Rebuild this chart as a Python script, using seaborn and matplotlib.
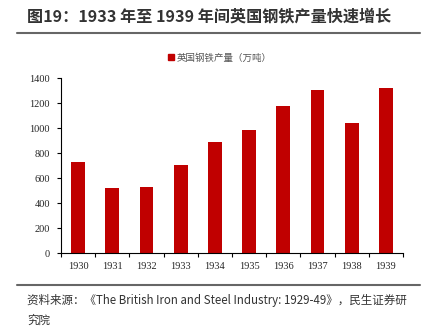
import matplotlib
matplotlib.use("Agg")
import matplotlib.pyplot as plt
import matplotlib.patches as mpatches
import matplotlib.lines as mlines
import seaborn as sns
import pandas as pd
import numpy as np

years = ["1930", "1931", "1932", "1933", "1934", "1935", "1936", "1937", "1938", "1939"]
output = [733, 520, 528, 706, 885, 986, 1178, 1301, 1040, 1322]
series_name = "英国钢铁产量（万吨）"
title = "图19：1933 年至 1939 年间英国钢铁产量快速增长"
source = "资料来源：《The British Iron and Steel Industry: 1929-49》，民生证券研\n究院"
yticks = [0, 200, 400, 600, 800, 1000, 1200, 1400]

sns.set_style("white")
plt.rcParams['font.family'] = ['Noto Sans CJK SC', 'DejaVu Sans']

df = pd.DataFrame({"year": years, "value": output})

fig = plt.figure(figsize=(4.24, 3.26), dpi=100)
ax = fig.add_axes([61/424, 1-253.3/326, (403-61)/424, (253.3-78)/326])

sns.barplot(data=df, x="year", y="value", color="#C00000", width=0.4,
            saturation=1, ax=ax, edgecolor="none")

ax.set_ylim(0, 1400)
ax.set_xlim(-0.5, len(years) - 0.5)
ax.set_yticks(yticks)
ax.set_yticklabels([str(v) for v in yticks], fontfamily="Liberation Serif", fontsize=7.5)
ax.set_xticks(np.arange(-0.5, len(years), 1.0))
ax.set_xticklabels([])
ax.set_xticks(np.arange(len(years)), minor=True)
ax.set_xticklabels(years, minor=True, fontfamily="Liberation Serif", fontsize=7.5)
ax.tick_params(axis="x", which="major", direction="out", length=3, width=0.8, color="black", bottom=True)
ax.tick_params(axis="x", which="minor", length=0, pad=6)
ax.tick_params(axis="y", direction="out", length=3, width=0.8, color="black", left=True, pad=5)
ax.set_xlabel("")
ax.set_ylabel("")
for s in ["top", "right"]:
    ax.spines[s].set_visible(False)
for s in ["left", "bottom"]:
    ax.spines[s].set_color("black")
    ax.spines[s].set_linewidth(0.8)

# Title
fig.text(27/424, 1-16/326, title, fontsize=11.6, fontweight="bold", color="#333333",
         va="center", ha="left")
fig.add_artist(mlines.Line2D([17/424, 420/424], [1-33/326, 1-33/326], color="#666666", lw=1.5))

# Legend
handle = mpatches.Patch(color="#C00000", label=series_name)
fig.legend(handles=[handle], loc="center", bbox_to_anchor=(220/424, 1-58/326), frameon=False,
           fontsize=6.8, handlelength=0.6, handleheight=0.6, handletextpad=0.3,
           labelcolor="#555555")

# Source
fig.add_artist(mlines.Line2D([17/424, 420/424], [1-285/326, 1-285/326], color="#666666", lw=1.5))
fig.text(27/424, 1-294/326, source, fontsize=8.3, color="#333333", va="top", ha="left",
         linespacing=1.65)

fig.savefig("out.png", dpi=100)
